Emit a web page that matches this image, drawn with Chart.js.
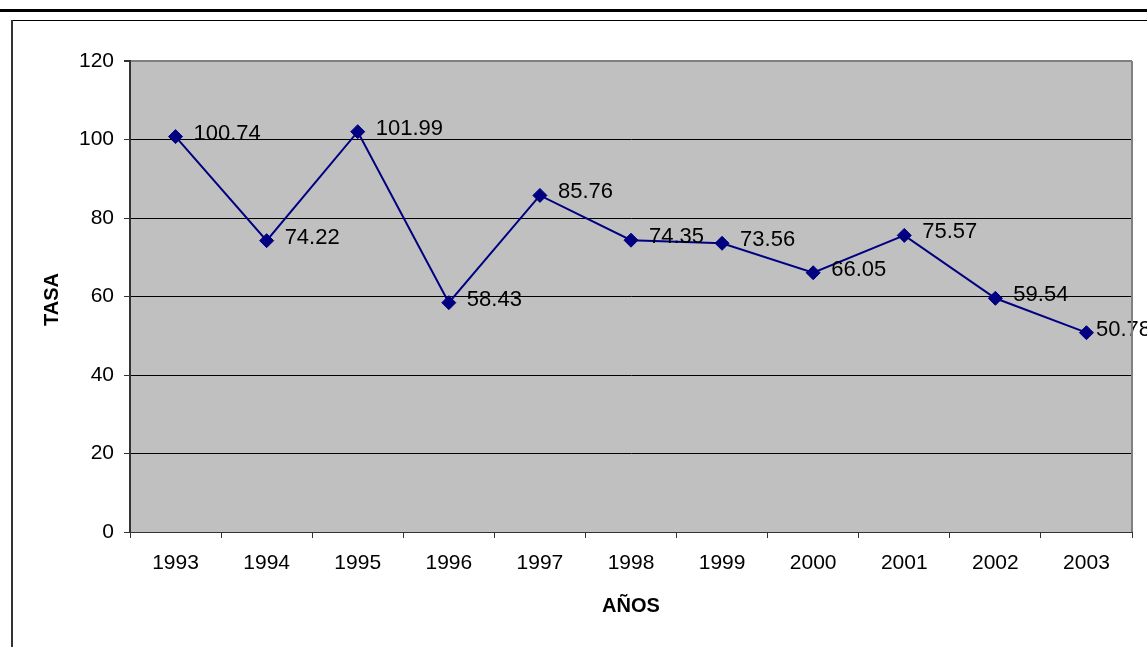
<!DOCTYPE html>
<html>
<head>
<meta charset="utf-8">
<script src="https://cdn.jsdelivr.net/npm/chart.js@4"></script>
<style>
  html, body { margin: 0; padding: 0; background: #fff; }
  #wrap { width: 1147px; height: 647px; }
</style>
</head>
<body>
<div id="wrap"><canvas id="tasaChart" width="1147" height="647"></canvas></div>
<script>
// Datos del grafico
const anios = ['1993', '1994', '1995', '1996', '1997', '1998', '1999', '2000', '2001', '2002', '2003'];
const tasa = [100.74, 74.22, 101.99, 58.43, 85.76, 74.35, 73.56, 66.05, 75.57, 59.54, 50.78];
const etiquetaX = 'AÑOS';
const etiquetaY = 'TASA';

const FONT = '"Liberation Sans", Arial, sans-serif';

// Marco, fondo gris del area de trazado y titulos de ejes
const marcoPlugin = {
    id: 'marco',
    beforeDraw(chart) {
        const ctx = chart.ctx;
        const a = chart.chartArea;
        ctx.save();
        ctx.fillStyle = '#fff';
        ctx.fillRect(0, 0, chart.width, chart.height);

        ctx.fillStyle = '#000';
        ctx.fillRect(0, 9, chart.width, 3);
        ctx.fillRect(12, 20, chart.width - 12, 1);
        ctx.fillStyle = '#333';
        ctx.fillRect(11, 20, 2, chart.height - 20);

        ctx.fillStyle = '#c0c0c0';
        ctx.fillRect(a.left, a.top, a.right - a.left, a.bottom - a.top);
        ctx.restore();
    },
    afterDraw(chart) {
        const ctx = chart.ctx;
        const a = chart.chartArea;
        ctx.save();
        ctx.fillStyle = '#808080';
        ctx.fillRect(a.right - 1, a.top, 2, a.bottom - a.top);

        ctx.fillStyle = '#000';
        ctx.font = 'bold 20px ' + FONT;
        ctx.textAlign = 'center';
        ctx.textBaseline = 'middle';
        ctx.fillText(etiquetaX, (a.left + a.right) / 2, 606);
        ctx.translate(52, (a.top + a.bottom) / 2 + 3);
        ctx.rotate(-Math.PI / 2);
        ctx.fillText(etiquetaY, 0, 0);
        ctx.restore();
    }
};

// Etiquetas de valor a la derecha de cada punto
const valoresPlugin = {
    id: 'valores',
    afterDatasetsDraw(chart) {
        const ctx = chart.ctx;
        const meta = chart.getDatasetMeta(0);
        ctx.save();
        ctx.font = '22px ' + FONT;
        ctx.fillStyle = '#000';
        ctx.textAlign = 'left';
        ctx.textBaseline = 'middle';
        meta.data.forEach((pt, i) => {
            const txt = tasa[i].toFixed(2);
            const w = ctx.measureText(txt).width;
            const x = Math.min(pt.x + 18, chart.width - w + 4);
            ctx.fillText(txt, x, pt.y - 3);
        });
        ctx.restore();
    }
};

new Chart(document.getElementById('tasaChart').getContext('2d'), {
    type: 'line',
    data: {
        labels: anios,
        datasets: [{
            data: tasa,
            borderColor: '#000080',
            backgroundColor: '#000080',
            borderWidth: 2,
            pointStyle: 'rectRot',
            pointRadius: 7,
            pointBorderWidth: 1,
            pointBackgroundColor: '#000080',
            pointBorderColor: '#000080',
            tension: 0,
            fill: false,
            clip: false
        }]
    },
    options: {
        responsive: false,
        animation: false,
        devicePixelRatio: 1,
        layout: { padding: { top: 61, right: 15, left: 0, bottom: 0 } },
        plugins: {
            legend: { display: false },
            tooltip: { enabled: false }
        },
        scales: {
            x: {
                type: 'category',
                offset: true,
                grid: {
                    offset: true,
                    drawOnChartArea: false,
                    drawTicks: true,
                    tickLength: 6,
                    tickColor: '#333'
                },
                border: { color: '#333', width: 1 },
                ticks: {
                    color: '#000',
                    padding: 13,
                    maxRotation: 0,
                    font: { family: FONT, size: 21 }
                },
                afterFit(scale) { scale.height = 115; }
            },
            y: {
                min: 0,
                max: 120,
                ticks: {
                    stepSize: 20,
                    color: '#000',
                    padding: 10,
                    font: { family: FONT, size: 21 }
                },
                grid: {
                    color: (c) => (c.tick && c.tick.value === 120 ? '#808080' : '#000'),
                    lineWidth: (c) => (c.tick && c.tick.value === 120 ? 2 : 1),
                    tickLength: 6,
                    tickColor: '#333'
                },
                border: { color: '#333', width: 2 },
                afterFit(scale) { scale.width = 130; }
            }
        }
    },
    plugins: [marcoPlugin, valoresPlugin]
});
</script>
</body>
</html>
